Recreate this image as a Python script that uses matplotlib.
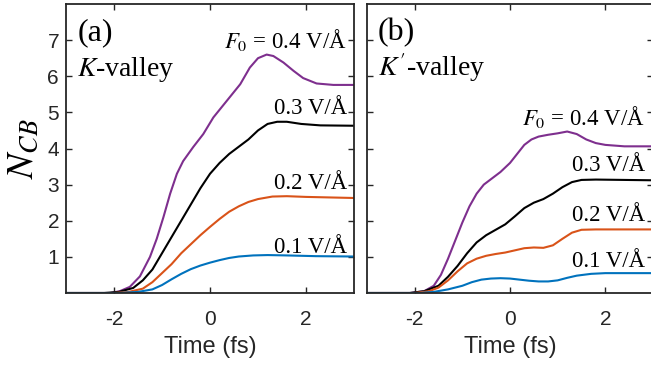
import matplotlib
matplotlib.use("Agg")
import matplotlib.pyplot as plt

plt.rcParams['mathtext.fontset'] = 'stix'
plt.rcParams['font.family'] = ['Liberation Sans', 'DejaVu Sans']
plt.rcParams['axes.unicode_minus'] = False

# time (fs) and N_CB values
# panel (a): K-valley
t_a4 = [-3.0, -2.08, -1.88, -1.67, -1.46, -1.25, -1.11, -0.97, -0.83, -0.69, -0.56, -0.35, -0.14,
        0.07, 0.35, 0.63, 0.83, 1.0, 1.18, 1.32, 1.53, 1.74, 1.94, 2.22, 2.57, 3.0]
n_a4 = [0.0, 0.0, 0.05, 0.17, 0.46, 1.0, 1.5, 2.1, 2.75, 3.3, 3.65, 4.04, 4.4,
        4.86, 5.32, 5.78, 6.24, 6.5, 6.6, 6.56, 6.38, 6.15, 5.95, 5.8, 5.76, 5.76]
t_a3 = [-3.0, -2.2, -1.9, -1.6, -1.4, -1.2, -1.0, -0.8, -0.6, -0.4, -0.2, 0.0, 0.2, 0.4,
        0.6, 0.8, 1.0, 1.2, 1.4, 1.6, 1.9, 2.3, 3.0]
n_a3 = [0.0, 0.0, 0.03, 0.14, 0.35, 0.65, 1.1, 1.55, 2.0, 2.45, 2.9, 3.3, 3.6, 3.85,
        4.05, 4.25, 4.5, 4.68, 4.74, 4.74, 4.68, 4.64, 4.63]
t_a2 = [-3.0, -2.0, -1.7, -1.4, -1.2, -1.0, -0.8, -0.6, -0.4, -0.2, 0.0, 0.2, 0.4, 0.6,
        0.8, 1.0, 1.3, 1.6, 2.0, 3.0]
n_a2 = [0.0, 0.0, 0.03, 0.12, 0.3, 0.55, 0.8, 1.1, 1.35, 1.6, 1.83, 2.05, 2.25, 2.4,
        2.52, 2.6, 2.67, 2.68, 2.66, 2.63]
t_a1 = [-3.0, -1.9, -1.5, -1.2, -1.0, -0.8, -0.6, -0.4, -0.2, 0.0, 0.2, 0.4, 0.6, 0.9,
        1.2, 1.6, 2.2, 3.0]
n_a1 = [0.0, 0.0, 0.03, 0.1, 0.22, 0.38, 0.53, 0.66, 0.76, 0.84, 0.91, 0.97, 1.01, 1.04,
        1.05, 1.04, 1.02, 1.01]

# panel (b): K'-valley
t_b4 = [-3.0, -2.1, -1.8, -1.6, -1.45, -1.3, -1.15, -1.0, -0.85, -0.7, -0.55, -0.4, -0.2,
        0.0, 0.15, 0.3, 0.45, 0.6, 0.8, 1.0, 1.2, 1.4, 1.6, 1.8, 2.0, 2.4, 3.0]
n_b4 = [0.0, 0.0, 0.05, 0.2, 0.5, 0.95, 1.45, 1.95, 2.4, 2.75, 3.0, 3.15, 3.35,
        3.6, 3.85, 4.1, 4.25, 4.33, 4.38, 4.42, 4.47, 4.4, 4.25, 4.15, 4.1, 4.06, 4.06]
t_b3 = [-3.0, -2.1, -1.8, -1.5, -1.3, -1.1, -0.9, -0.7, -0.5, -0.3, -0.1, 0.1, 0.3, 0.5,
        0.7, 0.9, 1.1, 1.3, 1.5, 1.8, 3.0]
n_b3 = [0.0, 0.0, 0.05, 0.2, 0.45, 0.75, 1.1, 1.4, 1.6, 1.75, 1.9, 2.12, 2.35, 2.5,
        2.6, 2.75, 2.93, 3.07, 3.13, 3.14, 3.12]
t_b2 = [-3.0, -2.0, -1.7, -1.5, -1.3, -1.1, -0.9, -0.7, -0.5, -0.3, -0.1, 0.1, 0.3, 0.5,
        0.7, 0.9, 1.1, 1.3, 1.5, 1.8, 3.0]
n_b2 = [0.0, 0.0, 0.05, 0.15, 0.35, 0.6, 0.82, 0.95, 1.03, 1.08, 1.12, 1.18, 1.24, 1.26,
        1.25, 1.32, 1.5, 1.67, 1.75, 1.76, 1.76]
t_b1 = [-3.0, -1.9, -1.6, -1.3, -1.0, -0.8, -0.6, -0.4, -0.2, 0.0, 0.2, 0.4, 0.6, 0.8,
        1.0, 1.2, 1.4, 1.7, 2.0, 3.0]
n_b1 = [0.0, 0.0, 0.03, 0.1, 0.2, 0.3, 0.37, 0.4, 0.41, 0.4, 0.37, 0.34, 0.32, 0.32,
        0.35, 0.42, 0.48, 0.53, 0.55, 0.55]

field_labels = [r"$F_0$ = 0.4 V/Å", "0.3 V/Å", "0.2 V/Å", "0.1 V/Å"]
yticks = [1, 2, 3, 4, 5, 6, 7]
xticks = [-2, 0, 2]

colors = ['#7E2F8E', 'black', '#D95319', '#0072BD']
axcol = '#262626'

fig = plt.figure(figsize=(6.51, 3.67), dpi=100)
ax_a = fig.add_axes([66 / 651, 74 / 367, 288 / 651, 289 / 367])
ax_b = fig.add_axes([367 / 651, 74 / 367, 286 / 651, 289 / 367])

series_a = [(t_a4, n_a4), (t_a3, n_a3), (t_a2, n_a2), (t_a1, n_a1)]
series_b = [(t_b4, n_b4), (t_b3, n_b3), (t_b2, n_b2), (t_b1, n_b1)]

for ax, series in [(ax_a, series_a), (ax_b, series_b)]:
    for (t, n), c in zip(series, colors):
        ax.plot(t, n, color=c, lw=1.5)
    ax.set_xlim(-3, 3)
    ax.set_ylim(0, 8)
    ax.set_xticks(xticks)
    ax.set_yticks(yticks)
    ax.tick_params(direction='in', length=4, width=1, top=True, right=True,
                   labelsize=15, colors=axcol, labelcolor=axcol, pad=5)
    ax.tick_params(axis='x', pad=12)
    for s in ax.spines.values():
        s.set_color(axcol)
        s.set_linewidth(1.3)
    ax.set_xlabel("Time (fs)", fontsize=17, color=axcol, labelpad=5)

ax_b.set_yticklabels([])
ax_a.set_ylabel(r"$N_{CB}$", fontsize=27, labelpad=5)

serif = 'Liberation Serif'
ax_a.text(-2.75, 7.0, "(a)", fontsize=23, family=serif, va='baseline')
ax_a.text(-2.77, 6.0, r"$K$-valley", fontsize=20, family=serif, va='baseline')
ax_b.text(-2.77, 7.0, "(b)", fontsize=23, family=serif, va='baseline')
ax_b.text(-2.77, 6.0, r"$K'$-valley", fontsize=20, family=serif, va='baseline')

ypos_a = [6.79, 4.96, 2.89, 1.10]
ypos_b = [4.66, 3.37, 1.99, 0.72]
for lab, ya, yb in zip(field_labels, ypos_a, ypos_b):
    ax_a.text(2.85, ya, lab, fontsize=16.5, family=serif, ha='right', va='baseline')
    ax_b.text(2.83, yb, lab, fontsize=16.5, family=serif, ha='right', va='baseline')

fig.savefig("out.png", dpi=100)
